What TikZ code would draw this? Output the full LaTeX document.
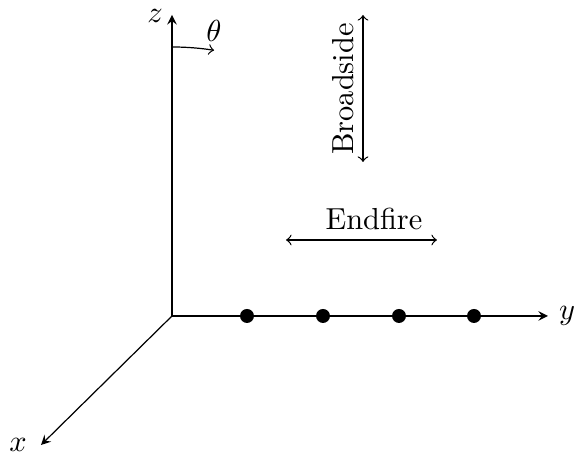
\documentclass[tikz,border=0pt]{standalone}
\usetikzlibrary{arrows}
\begin{document}
\begin{tikzpicture}[x=0.329pt,y=0.329pt,
  axis/.style={-stealth},
  dbl/.style={<->},
  elem/.style={circle,fill=black,inner sep=0pt,minimum size=4.6pt}]
\useasboundingbox (0,0) rectangle (574,459);
\coordinate (O) at (172,143);
\coordinate (zt) at (172,444);
\coordinate (yt) at (548,143);
\coordinate (xt) at (41,14);
\draw[axis] (O) -- (zt);
\draw[axis] (O) -- (yt);
\draw[axis] (O) -- (xt);
\node (zl) at (155,443) {$z$};
\node (yl) at (567,143) {$y$};
\node (xl) at (18,14) {$x$};
\node[elem] (e1) at (247,143) {};
\node[elem] (e2) at (323,143) {};
\node[elem] (e3) at (399,143) {};
\node[elem] (e4) at (474,143) {};
\draw[->] (172,412) arc[start angle=90,end angle=81,radius=269];
\node (th) at (214,428) {$\theta$};
\coordinate (bt) at (363,444);
\coordinate (bb) at (363,297);
\draw[dbl] (bt) -- (bb);
\node[rotate=90] (bs) at (343,370) {Broadside};
\coordinate (el) at (286,219);
\coordinate (er) at (437,219);
\draw[dbl] (el) -- (er);
\node (ef) at (374,240) {Endfire};
\end{tikzpicture}
\end{document}
